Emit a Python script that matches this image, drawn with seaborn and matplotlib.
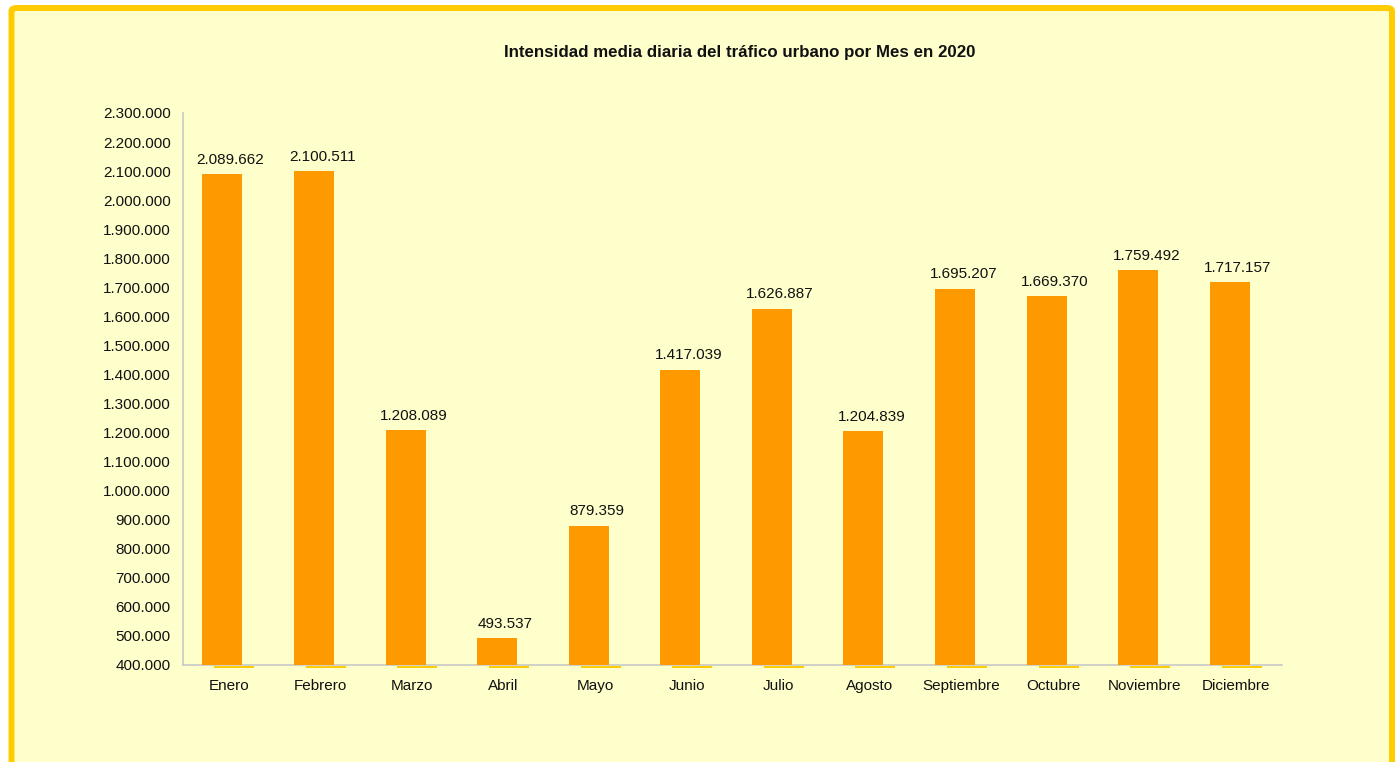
import matplotlib
matplotlib.use("Agg")
import matplotlib.pyplot as plt
import matplotlib.transforms as mtransforms
import seaborn as sns
import pandas as pd
from matplotlib.patches import FancyBboxPatch
from matplotlib.ticker import FuncFormatter, MultipleLocator

# datos: intensidad media diaria por mes (2020)
meses = ["Enero", "Febrero", "Marzo", "Abril", "Mayo", "Junio", "Julio",
         "Agosto", "Septiembre", "Octubre", "Noviembre", "Diciembre"]
intensidad = [2089662, 2100511, 1208089, 493537, 879359, 1417039, 1626887,
              1204839, 1695207, 1669370, 1759492, 1717157]

titulo = "Intensidad media diaria del tráfico urbano por Mes en 2020"
naranja = "#FF9900"
amarillo = "#FFCC00"
fondo = "#FFFFCC"

sns.set_style("white")
plt.rcParams["font.family"] = ["Liberation Sans", "DejaVu Sans"]

df = pd.DataFrame({"mes": meses, "valor": intensidad})

fig = plt.figure(figsize=(13.95, 7.62), dpi=100)
fig.patch.set_facecolor("white")

# marco amarillo con esquinas redondeadas (por detras de los ejes)
marco = FancyBboxPatch((11.5 / 1395, -0.05), (1395 - 11.5 - 3) / 1395, 1.05 - 8 / 762,
                       boxstyle="round,pad=0,rounding_size=0.004",
                       transform=fig.transFigure, facecolor=fondo,
                       edgecolor=amarillo, linewidth=4.3, zorder=-5)
fig.patches.append(marco)

ax = fig.add_axes([183 / 1395, (762 - 665) / 762, (1282 - 183) / 1395, (665 - 113) / 762])
ax.set_facecolor("none")

sns.barplot(data=df, x="mes", y="valor", color=naranja, width=0.437,
            saturation=1, ax=ax, linewidth=0, zorder=3)

# desplazar las barras naranjas hacia la izquierda (solapadas con la 2a serie)
for p in ax.patches:
    p.set_x(p.get_x() - 0.07)

ax.set_ylim(400000, 2300000)
ax.set_xlim(-0.5, len(meses) - 0.5)

# segunda serie (por debajo del minimo del eje): linea fina amarilla justo bajo el eje
bajo = ax.transData + mtransforms.ScaledTranslation(0, -1.6 / 100, fig.dpi_scale_trans)
for i in range(len(meses)):
    ax.hlines(400000, i + 0.06 - 0.218, i + 0.06 + 0.218, color=amarillo,
              linewidth=1.4, clip_on=False, zorder=2, transform=bajo)

# etiquetas de valores
for i, v in enumerate(intensidad):
    ax.text(i + 0.02, v + 25000, f"{v:,}".replace(",", "."), ha="center",
            va="bottom", fontsize=11, color="#111111")

ax.yaxis.set_major_locator(MultipleLocator(100000))
ax.yaxis.set_major_formatter(FuncFormatter(lambda y, _: f"{int(y):,}".replace(",", ".")))

# ejes
for s in ["top", "right"]:
    ax.spines[s].set_visible(False)
for s in ["left", "bottom"]:
    ax.spines[s].set_color("#C8C8C8")
    ax.spines[s].set_linewidth(1.2)

ax.set_xticks([i - 0.5 for i in range(len(meses) + 1)], minor=True)
ax.set_xticks(range(len(meses)))
ax.set_xticklabels(meses)
ax.tick_params(axis="x", which="major", length=0, pad=10, labelsize=11, labelcolor="#111111")
ax.tick_params(axis="x", which="minor", length=8, direction="inout", color="#C8C8C8", width=1.2)
ax.tick_params(axis="y", length=6, direction="inout", color="#C8C8C8", width=1.2,
               labelsize=11, labelcolor="#111111", pad=6)
ax.set_xlabel("")
ax.set_ylabel("")

fig.text(740 / 1395, (762 - 52) / 762, titulo, ha="center", va="center",
         fontsize=12.2, fontweight="bold", color="#111111")

fig.savefig("out.png", dpi=100, facecolor=fig.get_facecolor())
